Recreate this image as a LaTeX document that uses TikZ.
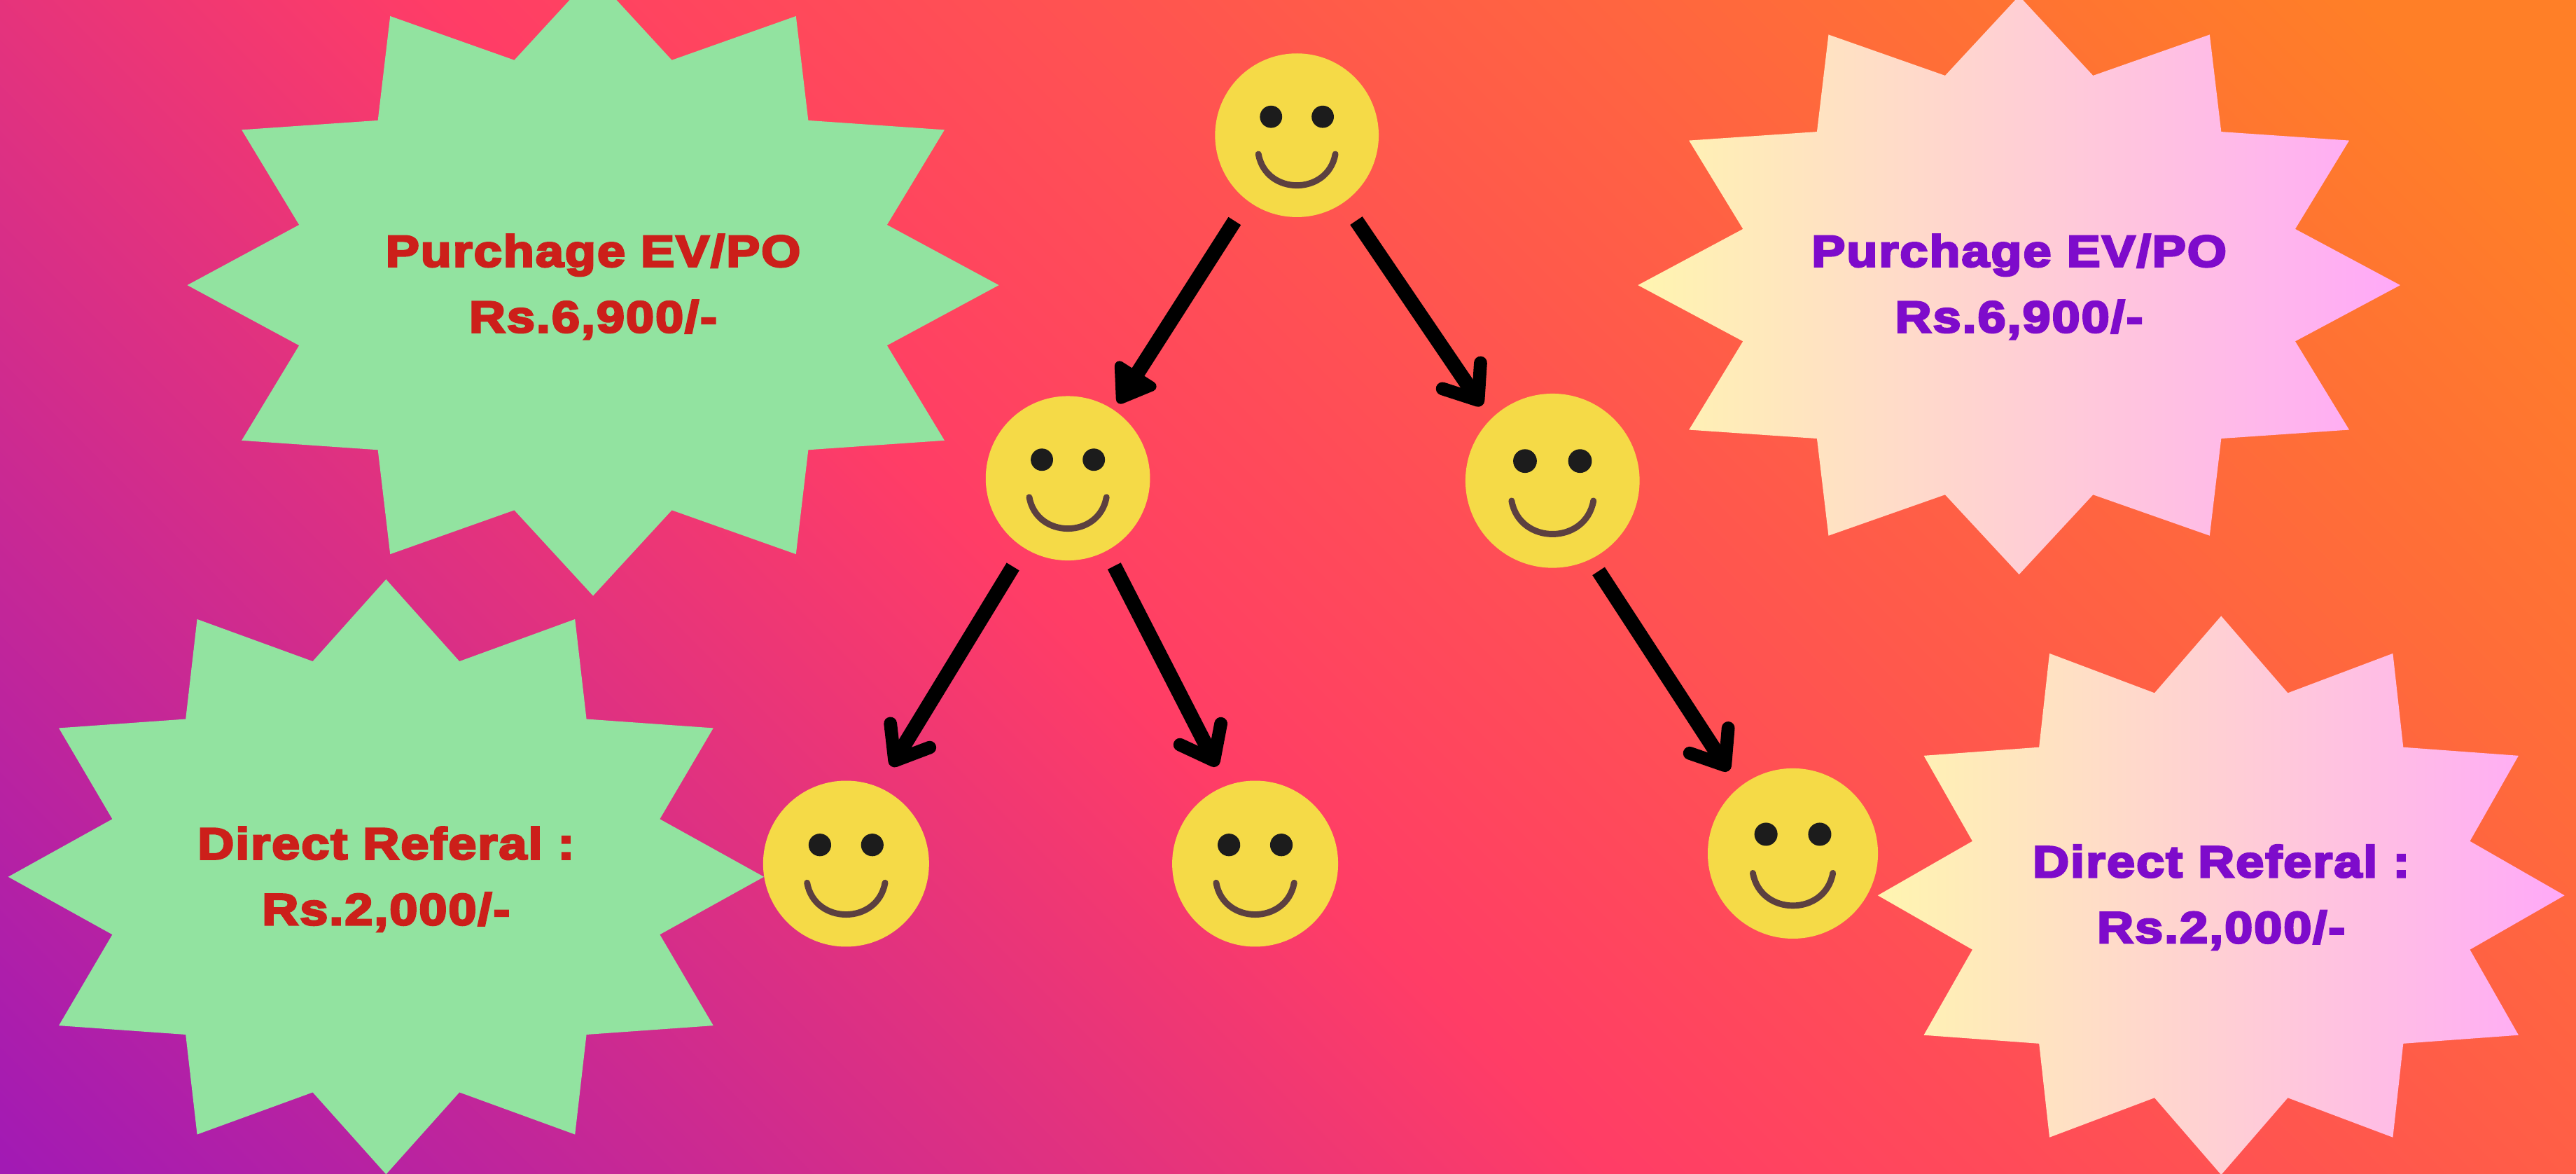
\documentclass[tikz,border=0pt]{standalone}
\usepackage{fontspec}
\setmainfont{Liberation Sans}[BoldFeatures={FakeBold=4.5,FakeStretch=1.14,LetterSpace=3}]
\usetikzlibrary{arrows.meta}
\definecolor{bgpurple}{HTML}{A21AB4}
\definecolor{bgpink}{HTML}{FF3D66}
\definecolor{bgorange}{HTML}{FF7F27}
\definecolor{burstgreen}{HTML}{92E3A0}
\definecolor{burstcream}{HTML}{FFF5B0}
\definecolor{burstpink}{HTML}{FFA9F8}
\definecolor{faceyellow}{HTML}{F5DA47}
\definecolor{eyedark}{HTML}{1C1C1C}
\definecolor{mouthbrown}{HTML}{5C4040}
\definecolor{textred}{HTML}{CC1F1A}
\definecolor{textpurple}{HTML}{7E0BCB}
\pgfdeclarehorizontalshading{canvasbg}{100bp}{
  color(0bp)=(bgpurple); color(24.3bp)=(bgpurple);
  color(46.4bp)=(bgpink);
  color(73bp)=(bgorange); color(100bp)=(bgorange)}
\tikzset{
  face/.style={circle,fill=faceyellow,inner sep=0pt,outer sep=0pt},
  eye/.style={fill=eyedark},
  mouth/.style={draw=mouthbrown,line width=3.8pt,line cap=round},
  linkline/.style={line width=9pt,-{Straight Barb[length=18pt,width=28pt,line width=8pt,round]}},
  linksolid/.style={line width=9pt,-{Triangle[length=25pt,width=33pt,line width=6pt,round]}},
  prize/.style={align=center,font=\fontsize{27}{40}\selectfont\bfseries}
}
\newcommand{\burst}[4]{
  (#1+#3,#2) \foreach \a in {0,30,...,330} {
    -- ({#1+#3*cos(\a)},{#2+#4*sin(\a)})
    -- ({#1+0.75*#3*cos(\a+15)},{#2+0.75*#4*sin(\a+15)})
  } -- cycle}
\newcommand{\smiley}[4]{
  \node[face,minimum size=#4*2pt] (#1) at (#2,#3) {};
  \begin{scope}[shift={(#1)},scale=#4/50]
    \fill[eye] (-15.8,-11.3) circle (6.8);
    \fill[eye] (15.8,-11.3) circle (6.8);
    \draw[mouth] (-23.5,11.5) .. controls (-19,37) and (19,37) .. (23.5,11.5);
  \end{scope}
}

\begin{document}
\begin{tikzpicture}[x=1pt,y=-1pt]
\useasboundingbox (0,0) rectangle (1568,713.9);
\clip (0,0) rectangle (1568,713.9);
\shade[shading=canvasbg,shading angle=45] (0,-427.05) rectangle (1568,1140.95);

\fill[burstgreen] \burst{361}{173.5}{247}{189};
\fill[burstgreen] \burst{235}{533.5}{230}{181};
\shade[left color=burstcream,right color=burstpink] \burst{1229}{173.5}{232}{176};
\shade[left color=burstcream,right color=burstpink] \burst{1352}{544.8}{209}{170};

\node[prize,text=textred] (evleft) at (361,174.5) {Purchage EV/PO\\Rs.6,900/-};
\node[prize,text=textred] (refleft) at (235,535) {Direct Referal :\\Rs.2,000/-};
\node[prize,text=textpurple] (evright) at (1229,174.5) {Purchage EV/PO\\Rs.6,900/-};
\node[prize,text=textpurple] (refright) at (1352,546) {Direct Referal :\\Rs.2,000/-};

\smiley{root}{789.4}{82.3}{49.8}
\smiley{lchild}{650}{291}{50}
\smiley{rchild}{945}{292.5}{53}
\smiley{gcone}{515}{525.5}{50.5}
\smiley{gctwo}{764}{525.5}{50.5}
\smiley{gcthree}{1091.3}{519.3}{51.8}

\draw[linksolid,shorten <=14.7pt,shorten >=5pt] (root.233) -- (lchild.56);
\draw[linkline,shorten <=13.5pt,shorten >=9.9pt] (root.-55.5) -- (rchild.135);
\draw[linkline,shorten <=13.3pt,shorten >=14.9pt] (lchild.238) -- (gcone.67);
\draw[linkline,shorten <=10.4pt,shorten >=13.2pt] (lchild.-62) -- (gctwo.110);
\draw[linkline,shorten <=8.8pt,shorten >=11.9pt] (rchild.-64) -- (gcthree.129.4);
\end{tikzpicture}
\end{document}
